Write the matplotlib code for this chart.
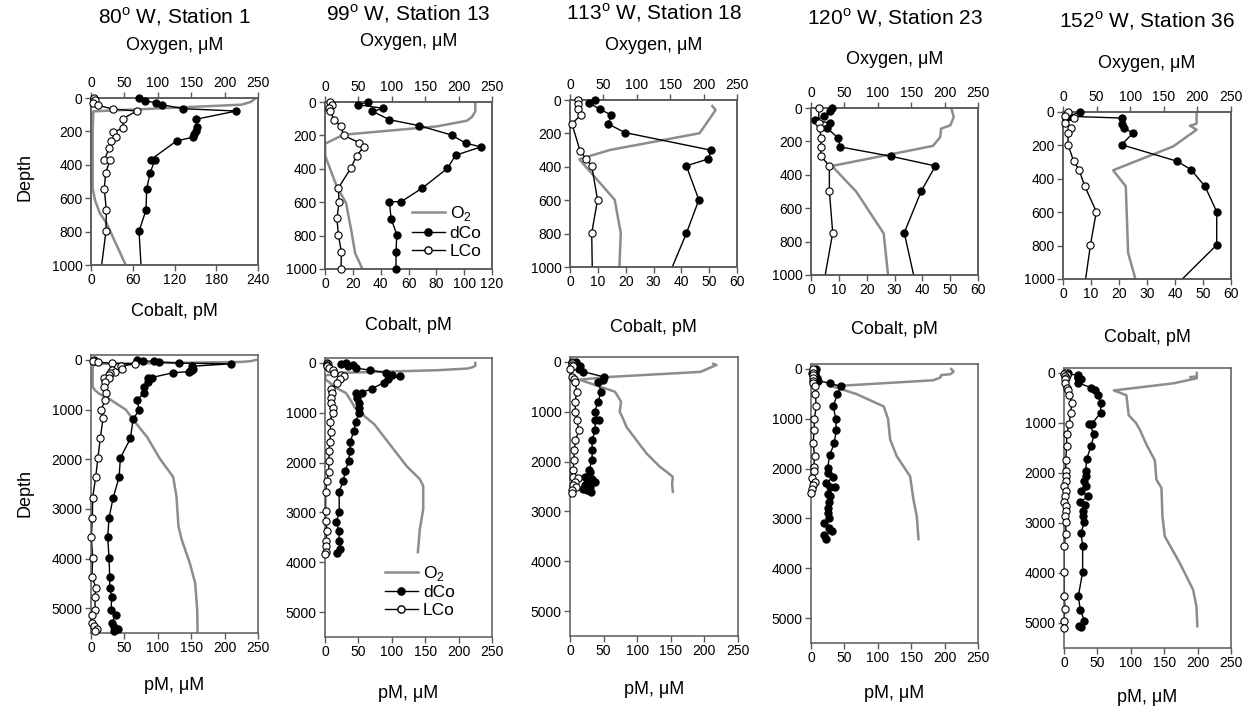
import numpy as np
import matplotlib
matplotlib.use("Agg")
import matplotlib.pyplot as plt
from matplotlib.lines import Line2D

plt.rcParams['font.family'] = ['Liberation Sans', 'DejaVu Sans']
plt.rcParams['mathtext.fontset'] = 'custom'
plt.rcParams['mathtext.rm'] = 'Liberation Sans'

# ---- data (depth in m, cobalt in pM, oxygen in uM) ----
# Station 1, 80 W
st1_dco_depth = [0, 18, 28, 40, 64, 78, 127, 175, 195, 215, 235, 257, 369, 369, 448, 544, 671, 799,
                 1010, 1191, 1580, 1975, 2363, 2785, 3180, 3574, 3983, 4378, 4585, 4779, 5033, 5134,
                 5301, 5388, 5421, 5468]
st1_dco = [69, 78, 94, 102, 132, 209, 151, 153, 151, 148, 146, 123, 86, 92, 85, 80, 79, 69,
           72, 63, 59, 44, 42, 33, 27, 25, 27, 28, 28, 31, 30, 37, 31, 35, 40, 35]
st1_lco_depth = [0, 14, 28, 44, 66, 78, 125, 179, 205, 233, 259, 297, 372, 372, 448, 544, 671, 799,
                 1010, 1171, 1573, 1968, 2363, 2771, 3179, 3574, 3983, 4377, 4585, 4779, 5033, 5134,
                 5301, 5368, 5422, 5468]
st1_lco = [4.3, 5.7, 2.4, 10.5, 31, 65.5, 45.4, 46.4, 32, 35.4, 28.2, 26.3, 19.1, 27.3, 21, 19.1, 22, 21.5,
           15, 18, 14, 10.4, 7, 2.5, 2, 0.5, 2.5, 1.5, 7.5, 5.5, 6.5, 1, 1.5, 5, 9, 6.5]
st1_o2_depth = [0, 24, 40, 80, 200, 540, 612, 691, 751, 1000, 1218, 1553, 1988, 2356, 2758, 3360,
                3628, 4096, 4498, 5033, 5468]
st1_o2 = [247, 239, 225, 3.5, 2.5, 2.5, 6, 13.4, 23.4, 52, 64, 84, 103, 123, 128, 131, 136, 148, 156, 159, 159.5]

# Station 13, 99 W
st13_dco_depth = [0, 16, 38, 56, 106, 142, 198, 246, 269, 319, 397, 515, 597, 597, 699, 794, 900, 1000,
                  1187, 1367, 1580, 1767, 1967, 2167, 2367, 2587, 2987, 3187, 3380, 3573, 3733, 3813]
st13_dco = [30.7, 23.5, 42, 34.1, 46.3, 67.9, 91, 101, 112, 93.8, 88, 70, 54.7, 46.3, 47.5, 51.6, 51, 51,
            46, 43, 38, 37, 35.4, 30.4, 27.4, 21, 21.5, 17, 21, 21, 22, 18]
st13_lco_depth = [0, 16, 36, 56, 108, 146, 200, 244, 269, 321, 397, 515, 599, 697, 798, 898, 1000,
                  1187, 1380, 1580, 1773, 1973, 2180, 2367, 2580, 2980, 3180, 3380, 3573, 3680, 3787, 3830]
st13_lco = [3.6, 4.8, 3.1, 3.6, 6.7, 11.5, 13.4, 24.7, 27.8, 22.8, 18.5, 9.6, 10.1, 8.6, 9.6, 11.8, 11.5,
            7, 9, 7, 6, 6, 5.5, 3, 1, 1, 1, 3.5, 1, 2, 1, 0.5]
st13_o2_depth = [0, 56, 90, 112, 146, 196, 250, 325, 505, 605, 784, 904, 1000, 1067, 1233, 1633, 2067,
                 2333, 2467, 2933, 3333, 3800]
st13_o2 = [225, 225, 220, 212.5, 167.5, 27.5, 0, 0.5, 17.5, 31.5, 40, 45, 56, 59, 74, 97, 122, 142, 147,
           147, 142, 139]

# Station 18, 113 W
st18_dco_depth = [0, 16, 56, 90, 143, 195, 301, 353, 394, 598, 799, 1010, 1170, 1170, 1370, 1571, 1758,
                  1959, 2173, 2206, 2306, 2340, 2406, 2406, 2473, 2507, 2540, 2574, 2607]
st18_dco = [9, 6.7, 10.8, 14.9, 13.7, 19.7, 50.8, 49.7, 41.8, 46.3, 41.8, 36.5, 43, 37.4, 37.4, 32.9, 32.9,
            32.9, 28.4, 29.4, 21.9, 33.4, 26.9, 36.9, 21.9, 29.4, 19.4, 25.4, 31.9]
st18_lco_depth = [0, 24, 56, 90, 143, 303, 351, 394, 598, 797, 1010, 1170, 1370, 1571, 1771, 1972, 2173,
                  2306, 2320, 2406, 2473, 2507, 2560, 2620]
st18_lco = [2.7, 2.7, 2.9, 3.8, 0.7, 3.6, 5.7, 7.8, 9.9, 7.8, 8, 10, 13.4, 8, 6.5, 5.5, 5, 4.5, 12, 7, 4.5,
            8.5, 3.5, 3]
st18_o2_depth = [36, 60, 199, 299, 335, 355, 598, 797, 1000, 1170, 1303, 1571, 1838, 2106, 2206, 2306,
                 2440, 2607]
st18_o2 = [213, 218, 194, 60, 30, 14, 67, 76, 74, 80, 84, 99, 114, 134, 144, 153, 152, 153]

# Station 23, 120 W
st23_dco_depth = [0, 18, 48, 74, 90, 120, 177, 233, 289, 347, 498, 747, 1010, 1218, 1486, 1734, 1988,
                  2088, 2175, 2289, 2376, 2376, 2503, 2557, 2677, 2791, 2892, 2992, 3092, 3193, 3260,
                  3327, 3414]
st23_dco = [7.5, 6.7, 4.8, 1.6, 6.7, 5.7, 9.6, 10.5, 28.7, 44.7, 39.6, 33.5, 37, 37.8, 34.9, 27.9, 24.9,
            24.9, 32.4, 22.9, 36.4, 28.9, 25.4, 28.9, 26.4, 25.4, 25.4, 27.4, 19.9, 27.4, 31.4, 19.9, 22.9]
st23_lco_depth = [0, 90, 120, 177, 233, 289, 347, 498, 747, 1010, 1218, 1486, 1740, 1968, 2055, 2189,
                  2269, 2323, 2410, 2490]
st23_lco = [2.8, 2.8, 3.1, 3.6, 3.6, 3.6, 6.6, 6.6, 7.8, 5, 5, 3, 5.5, 4, 4, 2, 6.5, 3, 2, 0]
st23_o2_depth = [0, 54, 104, 124, 173, 227, 347, 502, 751, 1000, 1419, 1754, 2155, 2624, 2959, 3414]
st23_o2 = [210, 213.6, 208.6, 194.6, 193.6, 182.6, 31.4, 67.9, 108.8, 115.3, 118.5, 128.5, 148.4, 153.4,
           158.4, 160.9]

# Station 36, 152 W
st36_dco_depth = [0, 26, 36, 70, 96, 126, 196, 295, 345, 445, 597, 796, 1010, 1010, 1220, 1467, 1720,
                  1967, 2067, 2167, 2267, 2367, 2467, 2580, 2647, 2767, 2867, 2987, 3200, 3467, 3980,
                  4467, 4733, 4953, 5053, 5087]
st36_dco = [6, 2, 20.9, 20.9, 21.7, 25, 20.9, 40.8, 45.7, 50.7, 54.9, 54.9, 42, 37, 45.3, 40.3, 33.9,
            32.4, 32.9, 30.4, 32.9, 25.4, 36.4, 23.9, 31.4, 28.9, 27.9, 30.4, 25.4, 27.9, 27.9, 21.4,
            24.4, 30.4, 21.9, 25.9]
st36_lco_depth = [0, 26, 36, 66, 96, 126, 196, 295, 345, 445, 597, 796, 1010, 1220, 1467, 1733, 1967,
                  2067, 2167, 2267, 2367, 2467, 2580, 2667, 2767, 2867, 2987, 3213, 3467, 3980, 4467,
                  4720, 4967, 5100]
st36_lco = [1.8, 0.6, 3.8, 0.8, 3, 1.8, 1.8, 3.8, 5.7, 7.8, 11.9, 9.8, 8, 4, 4, 2.5, 3, 3, 2.5, 0.5, 2.5,
            2, 0, 3, 3, 2, 2.5, 3, 0, 0.5, 0.5, 1.5, 0, 0.5]
st36_o2_depth = [0, 70, 82, 106, 206, 349, 445, 844, 1000, 1133, 1433, 1747, 2133, 2300, 2867, 3267,
                 3800, 4333, 4667, 5067]
st36_o2 = [198.8, 198.8, 188.9, 198.8, 164, 74.6, 93.4, 96.9, 107.8, 113.5, 123.5, 136, 138.4, 145.9,
           147.4, 150.9, 173.3, 193.2, 198.2, 199.7]

titles = [r'80$^\mathregular{o}$ W, Station 1', r'99$^\mathregular{o}$ W, Station 13',
          r'113$^\mathregular{o}$ W, Station 18', r'120$^\mathregular{o}$ W, Station 23',
          r'152$^\mathregular{o}$ W, Station 36']
cobalt_max = [240, 120, 60, 60, 60]
cobalt_step = [60, 20, 10, 10, 10]

profiles = [
    (st1_dco_depth, st1_dco, st1_lco_depth, st1_lco, st1_o2_depth, st1_o2),
    (st13_dco_depth, st13_dco, st13_lco_depth, st13_lco, st13_o2_depth, st13_o2),
    (st18_dco_depth, st18_dco, st18_lco_depth, st18_lco, st18_o2_depth, st18_o2),
    (st23_dco_depth, st23_dco, st23_lco_depth, st23_lco, st23_o2_depth, st23_o2),
    (st36_dco_depth, st36_dco, st36_lco_depth, st36_lco, st36_o2_depth, st36_o2),
]

# ---- layout (pixel boxes: left, top, right, bottom) ----
W, H = 1257, 719
top_boxes = [(91, 98, 258, 265), (325, 102, 492, 269), (570, 100, 737, 267),
             (811, 108, 978, 275), (1063, 112, 1231, 279)]
bot_boxes = [(91, 355, 258, 633), (325, 358, 492, 637), (570, 357, 738, 636),
             (811, 364, 978, 643), (1064, 368, 1231, 648)]
title_y = [17, 14, 13, 18, 21]
oxy_y = [45, 41, 45, 60, 63]
cob_y = [312, 325, 328, 330, 337]
pm_y = [686, 693, 690, 693, 698]

GREY = '#8c8c8c'
SPINE = '#5a5a5a'
MS = 5.2


def rect(b):
    l, t, r, bt = b
    return [l / W, 1 - bt / H, (r - l) / W, (bt - t) / H]


def fx(x):
    return x / W


def fy(y):
    return 1 - y / H


def style(ax):
    for s in ax.spines.values():
        s.set_color(SPINE)
        s.set_linewidth(1.1)
    ax.tick_params(direction='out', length=4, width=1, color=SPINE, labelsize=10, pad=2)


def draw_co(ax, dd, dco, ld, lco, clip_depth=None):
    dd, dco, ld, lco = map(np.asarray, (dd, dco, ld, lco))
    ax.plot(dco, dd, '-', color='k', lw=1.0)
    ax.plot(lco, ld, '-', color='k', lw=1.0)
    md = dd <= clip_depth if clip_depth else np.ones(len(dd), bool)
    ml = ld <= clip_depth if clip_depth else np.ones(len(ld), bool)
    ax.plot(dco[md], dd[md], 'o', ls='none', ms=MS, mfc='k', mec='k', mew=0.8, clip_on=False, zorder=4)
    ax.plot(lco[ml], ld[ml], 'o', ls='none', ms=MS, mfc='white', mec='k', mew=0.8, clip_on=False, zorder=5)


def legend_handles():
    return [Line2D([], [], color=GREY, lw=1.8),
            Line2D([], [], color='k', lw=1, marker='o', ms=MS, mfc='k', mec='k'),
            Line2D([], [], color='k', lw=1, marker='o', ms=MS, mfc='white', mec='k')]


legend_labels = [r'O$_\mathregular{2}$', 'dCo', 'LCo']

fig = plt.figure(figsize=(W / 100, H / 100), dpi=100)

for i in range(5):
    dd, dco, ld, lco, od, o2 = profiles[i]

    # upper 1000 m: oxygen on top axis, cobalt on bottom axis
    ax = fig.add_axes(rect(top_boxes[i]))
    axc = ax.twiny()
    ax.plot(o2, od, color=GREY, lw=1.8)
    ax.set_xlim(0, 250)
    ax.set_ylim(1000, 0)
    ax.set_xticks(np.arange(0, 251, 50))
    ax.set_yticks(np.arange(0, 1001, 200))
    ax.xaxis.set_ticks_position('top')
    ax.xaxis.set_label_position('top')
    axc.xaxis.set_ticks_position('bottom')
    axc.xaxis.set_label_position('bottom')
    axc.set_xlim(0, cobalt_max[i])
    axc.set_xticks(np.arange(0, cobalt_max[i] + 1, cobalt_step[i]))
    style(ax)
    style(axc)
    draw_co(axc, dd, dco, ld, lco, clip_depth=1000)
    axc.set_ylim(1000, 0)

    l, t, r, b = top_boxes[i]
    cx = fx((l + r) / 2)
    fig.text(cx, fy(title_y[i]), titles[i], ha='center', va='center', fontsize=15)
    fig.text(cx, fy(oxy_y[i]), 'Oxygen, μM', ha='center', va='center', fontsize=13)
    fig.text(cx, fy(cob_y[i]), 'Cobalt, pM', ha='center', va='center', fontsize=13)

    # full profile
    bx = fig.add_axes(rect(bot_boxes[i]))
    bx.plot(o2, od, color=GREY, lw=1.8)
    draw_co(bx, dd, dco, ld, lco)
    bx.set_xlim(0, 250)
    bx.set_ylim(5500, -100)
    bx.set_xticks(np.arange(0, 251, 50))
    bx.set_yticks(np.arange(0, 5001, 1000))
    style(bx)
    l, t, r, b = bot_boxes[i]
    fig.text(fx((l + r) / 2), fy(pm_y[i]), 'pM, μM', ha='center', va='center', fontsize=13)

    if i == 1:
        axc.legend(legend_handles(), legend_labels, loc='lower right', bbox_to_anchor=(1.0, 0.0),
                   frameon=False, fontsize=12.5, handlelength=1.9, handletextpad=0.3,
                   labelspacing=0.15, borderaxespad=0.2)
        bx.legend(legend_handles(), legend_labels, loc='lower right', bbox_to_anchor=(0.84, 0.03),
                  frameon=False, fontsize=12.5, handlelength=1.9, handletextpad=0.3,
                  labelspacing=0.15, borderaxespad=0.2)

fig.text(fx(25), fy(177), 'Depth', rotation=90, ha='center', va='center', fontsize=13)
fig.text(fx(25), fy(493), 'Depth', rotation=90, ha='center', va='center', fontsize=13)

fig.savefig('out.png', dpi=100)
